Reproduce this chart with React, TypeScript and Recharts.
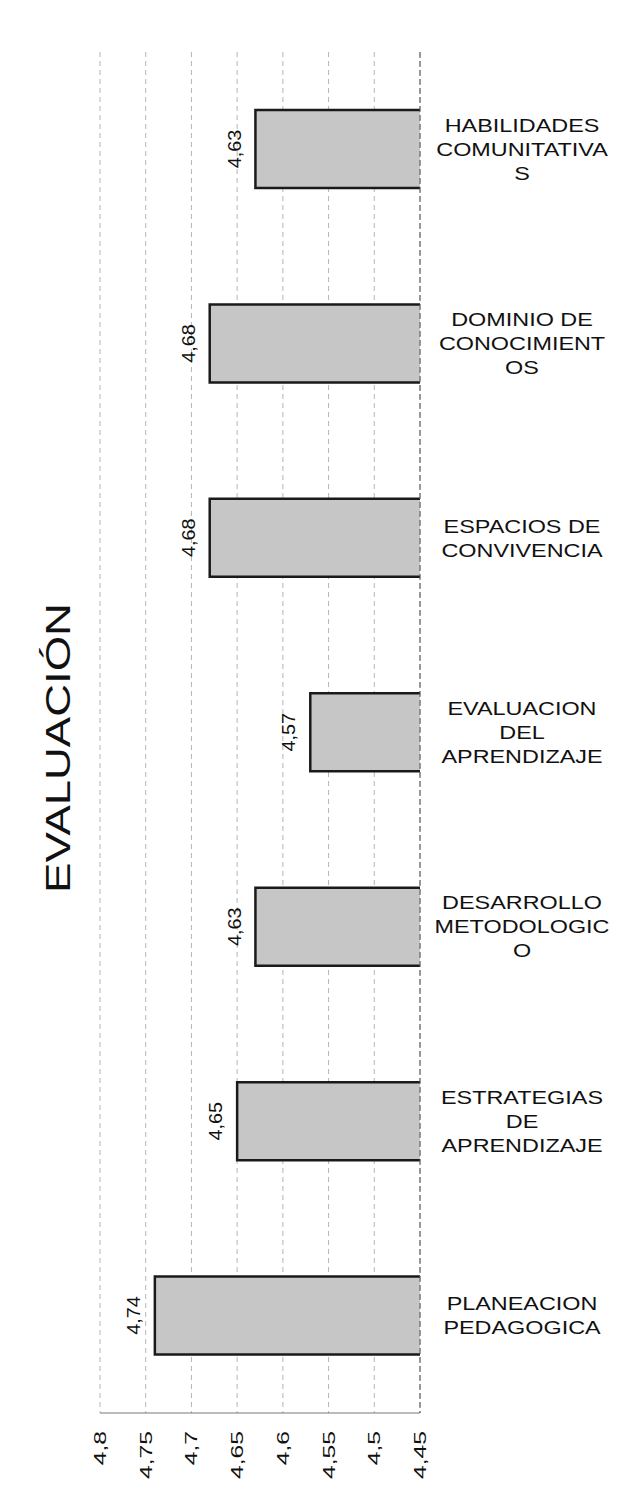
import React from "react";
import {
  BarChart,
  Bar,
  XAxis,
  YAxis,
  CartesianGrid,
  LabelList,
} from "recharts";

// categorias (de arriba hacia abajo) y sus valores
const categories = [
  "HABILIDADES\nCOMUNITATIVA\nS",
  "DOMINIO DE\nCONOCIMIENT\nOS",
  "ESPACIOS DE\nCONVIVENCIA",
  "EVALUACION\nDEL\nAPRENDIZAJE",
  "DESARROLLO\nMETODOLOGIC\nO",
  "ESTRATEGIAS\nDE\nAPRENDIZAJE",
  "PLANEACION\nPEDAGOGICA",
];
const values = [4.63, 4.68, 4.68, 4.57, 4.63, 4.65, 4.74];
const xTicks = [4.8, 4.75, 4.7, 4.65, 4.6, 4.55, 4.5, 4.45];

const data = categories.map((name, i) => ({ name, valor: values[i] }));

const FONT = "'Liberation Sans', Arial, sans-serif";
const fmt = (v: number) => String(v).replace(".", ",");

const BarShape = (props: any) => {
  const { x, y, width, height } = props;
  const left = Math.min(x, x + width);
  const right = Math.max(x, x + width);
  const top = y;
  const bottom = y + height;
  return (
    <g>
      <rect x={left} y={top} width={right - left} height={bottom - top} fill="#c6c6c6" />
      <path
        d={`M${right},${top} L${left},${top} L${left},${bottom} L${right},${bottom}`}
        fill="none"
        stroke="#1a1a1a"
        strokeWidth={2.5}
      />
    </g>
  );
};

const ValueLabel = (props: any) => {
  const { x, y, width, height, value } = props;
  const left = Math.min(x, x + width);
  const cx = left - 21;
  const cy = y + height / 2;
  return (
    <text
      transform={`translate(${cx}, ${cy}) rotate(-90) scale(1.1, 1)`}
      textAnchor="middle"
      dominantBaseline="central"
      fontFamily={FONT}
      fontSize={18}
      fill="#111"
    >
      {fmt(value)}
    </text>
  );
};

const XTick = (props: any) => {
  const { x, y, payload } = props;
  const ty = y + 10;
  return (
    <text
      transform={`translate(${x}, ${ty}) rotate(-90) scale(1.45, 1)`}
      textAnchor="end"
      dominantBaseline="central"
      fontFamily={FONT}
      fontSize={17}
      fill="#111"
    >
      {fmt(payload.value)}
    </text>
  );
};

const YTick = (props: any) => {
  const { x, y, payload } = props;
  const lines = String(payload.value).split("\n");
  const lh = 24;
  const cx = x + 94;
  const start = y - ((lines.length - 1) * lh) / 2;
  return (
    <g>
      {lines.map((ln, i) => (
        <text
          key={i}
          transform={`translate(${cx}, ${start + i * lh}) scale(1.3, 1)`}
          textAnchor="middle"
          dominantBaseline="central"
          fontFamily={FONT}
          fontSize={18}
          fill="#111"
        >
          {ln}
        </text>
      ))}
    </g>
  );
};

export default function App() {
  return (
    <div style={{ position: "absolute", left: 0, top: 0, width: 621, height: 1497, background: "#fff" }}>
      <BarChart
        layout="vertical"
        width={621}
        height={1497}
        data={data}
        barSize={78}
        margin={{ top: 52, right: 0, bottom: 0, left: 100 }}
      >
        <CartesianGrid horizontal={false} strokeDasharray="5 4" stroke="#b5b5b5" />
        <XAxis
          type="number"
          domain={[4.45, 4.8]}
          ticks={xTicks}
          reversed
          allowDataOverflow
          height={84}
          tick={<XTick />}
          tickLine={false}
          axisLine={{ stroke: "#777" }}
        />
        <YAxis
          type="category"
          dataKey="name"
          orientation="right"
          width={201}
          tick={<YTick />}
          tickLine={false}
          axisLine={{ stroke: "#555", strokeDasharray: "6 3" }}
        />
        <Bar dataKey="valor" shape={<BarShape />} isAnimationActive={false}>
          <LabelList dataKey="valor" content={<ValueLabel />} />
        </Bar>
      </BarChart>
      <svg
        width={120}
        height={400}
        style={{ position: "absolute", left: 0, top: 548 }}
      >
        <text
          transform={`translate(70, 200) rotate(-90) scale(1.3, 1)`}
          textAnchor="middle"
          fontFamily={FONT}
          fontSize={35}
          fill="#111"
        >
          EVALUACIÓN
        </text>
      </svg>
    </div>
  );
}
